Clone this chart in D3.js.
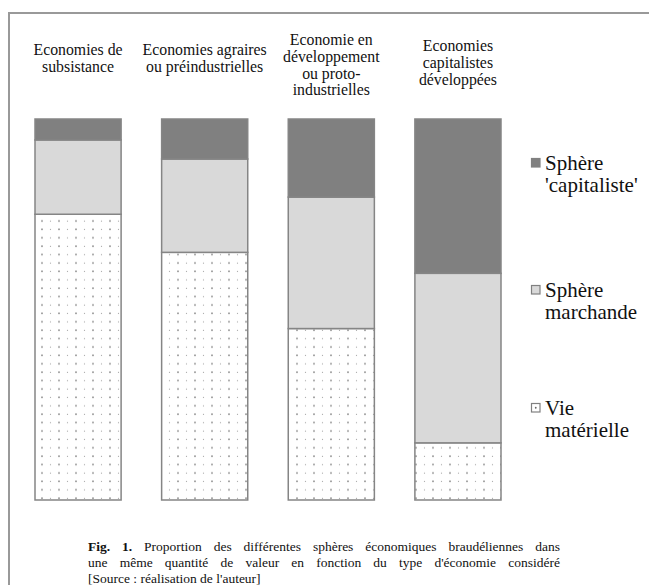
<!DOCTYPE html>
<html>
<head>
<meta charset="utf-8">
<script src="https://cdn.jsdelivr.net/npm/d3@7"></script>
<style>
  body { margin: 0; background: #fff; }
  text { font-family: "Liberation Serif", "DejaVu Serif", serif; }
</style>
</head>
<body>
<svg id="chart"></svg>
<script>
const categories = [
  ["Economies de", "subsistance"],
  ["Economies agraires", "ou préindustrielles"],
  ["Economie en", "développement", "ou proto-", "industrielles"],
  ["Economies", "capitalistes", "développées"]
];
const vieMaterielle = [75, 65, 45, 15];
const sphereMarchande = [19.5, 24.5, 34.5, 44.5];
const sphereCapitaliste = [5.5, 10.5, 20.5, 40.5];
const legendLabels = [["Sphère", "'capitaliste'"], ["Sphère", "marchande"], ["Vie", "matérielle"]];
const captionLines = [
  "Proportion des différentes sphères économiques braudéliennes dans",
  "une même quantité de valeur en fonction du type d'économie considéré",
  "[Source : réalisation de l'auteur]"
];

const width = 649, height = 585;
const svg = d3.select("#chart")
  .attr("width", width).attr("height", height);

// pattern for the "vie matérielle" dots
const defs = svg.append("defs");
const pat = defs.append("pattern")
  .attr("id", "dots")
  .attr("patternUnits", "userSpaceOnUse")
  .attr("width", 17).attr("height", 8.4)
  .attr("x", 38).attr("y", 217);
pat.append("rect").attr("width", 17).attr("height", 8.4).attr("fill", "#fff");
pat.append("circle").attr("cx", 4).attr("cy", 4).attr("r", 0.9).attr("fill", "#8a8a8a");
pat.append("circle").attr("cx", 12.5).attr("cy", 4).attr("r", 0.6).attr("fill", "#9a9a9a");

// frame: only the left and top edges fall inside the picture
svg.append("line")
  .attr("x1", 9).attr("y1", 12).attr("x2", 9).attr("y2", height)
  .attr("stroke", "#999").attr("stroke-width", 2);
svg.append("line")
  .attr("x1", 8).attr("y1", 13).attr("x2", width).attr("y2", 13)
  .attr("stroke", "#999").attr("stroke-width", 2);

const x = d3.scaleBand()
  .domain(d3.range(categories.length))
  .range([35, 501])
  .paddingInner(0.32)
  .paddingOuter(0);

const y = d3.scaleLinear().domain([0, 100]).range([500, 119]);

const table = categories.map((c, i) => ({
  idx: i,
  mat: vieMaterielle[i],
  mar: sphereMarchande[i],
  cap: sphereCapitaliste[i]
}));
const stacked = d3.stack().keys(["mat", "mar", "cap"])(table);
const fills = ["url(#dots)", "#d9d9d9", "#808080"];

svg.append("g").selectAll("g")
  .data(stacked)
  .join("g")
  .attr("fill", (d, i) => fills[i])
  .selectAll("rect")
  .data(d => d)
  .join("rect")
  .attr("x", d => x(d.data.idx))
  .attr("y", d => y(d[1]))
  .attr("width", x.bandwidth())
  .attr("height", d => y(d[0]) - y(d[1]))
  .attr("stroke", "#858585")
  .attr("stroke-width", 1.5);

// category labels
const firstBaseline = [55, 55, 45, 51];
const lab = svg.append("g")
  .attr("font-size", 15.8)
  .attr("fill", "#111")
  .attr("text-anchor", "middle");
categories.forEach((lines, i) => {
  const cx = x(i) + x.bandwidth() / 2;
  const t = lab.append("text").attr("x", cx).attr("y", firstBaseline[i]);
  lines.forEach((l, j) => {
    t.append("tspan")
      .attr("x", cx)
      .attr("dy", j === 0 ? 0 : 16.8)
      .text(l);
  });
});

// legend
const legY = [163, 290, 408];
const legFill = ["#808080", "#d9d9d9", "#fff"];
const leg = svg.append("g");
legendLabels.forEach((lines, i) => {
  leg.append("rect")
    .attr("x", 531.5).attr("y", legY[i] - 4.5)
    .attr("width", 8.5).attr("height", 8.5)
    .attr("fill", legFill[i])
    .attr("stroke", "#808080")
    .attr("stroke-width", 1.2);
  if (i === 2) {
    leg.append("circle")
      .attr("cx", 535.75).attr("cy", legY[i] - 0.25)
      .attr("r", 0.9).attr("fill", "#666");
  }
  const t = leg.append("text")
    .attr("x", 545).attr("y", legY[i] + 6.5)
    .attr("font-size", 21)
    .attr("fill", "#111");
  lines.forEach((l, j) => {
    t.append("tspan")
      .attr("x", 545)
      .attr("dy", j === 0 ? 0 : 22.5)
      .text(l);
  });
});

// caption (justified for the first two lines)
const capX0 = 88, capX1 = 560;
const capBase = [551, 567, 583];
const cap = svg.append("g").attr("font-size", 13.5).attr("fill", "#111");

function justify(words, baseline) {
  const nodes = words.map(w => {
    const t = cap.append("text").attr("y", baseline);
    if (w.bold) t.attr("font-weight", "bold");
    t.text(w.text);
    return t;
  });
  const widths = nodes.map(n => n.node().getComputedTextLength());
  const gap = (capX1 - capX0 - d3.sum(widths)) / (nodes.length - 1);
  let cx = capX0;
  nodes.forEach((n, k) => {
    n.attr("x", cx);
    cx += widths[k] + gap;
  });
}

justify(
  [{ text: "Fig.", bold: true }, { text: "1.", bold: true }]
    .concat(captionLines[0].split(" ").map(t => ({ text: t }))),
  capBase[0]
);
justify(captionLines[1].split(" ").map(t => ({ text: t })), capBase[1]);
cap.append("text").attr("x", capX0).attr("y", capBase[2]).text(captionLines[2]);
</script>
</body>
</html>
